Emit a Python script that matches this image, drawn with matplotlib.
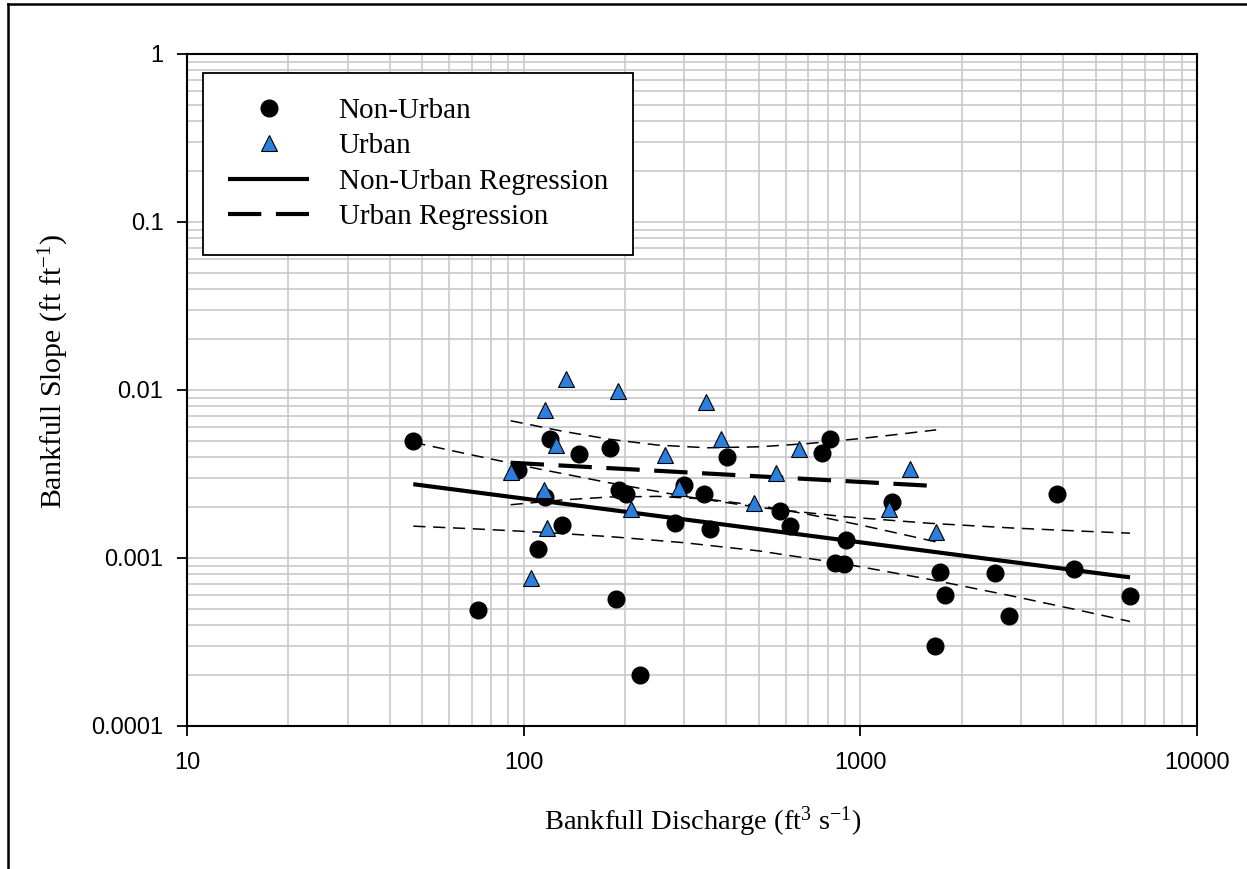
import matplotlib
matplotlib.use('Agg')
import matplotlib.pyplot as plt
from matplotlib.lines import Line2D
from matplotlib.ticker import FixedLocator, LogLocator, NullFormatter

plt.rcParams['font.family'] = 'Liberation Sans'
plt.rcParams['mathtext.fontset'] = 'custom'
plt.rcParams['mathtext.rm'] = 'Liberation Serif'

# bankfull discharge (ft3/s) and bankfull slope (ft/ft) per site
non_urban_q = [47, 73, 96, 110, 116, 120, 130, 146, 180, 188, 192, 202, 221,
               281, 299, 344, 357, 401, 577, 618, 771, 813, 841, 893, 906,
               1245, 1667, 1722, 1782, 2512, 2770, 3846, 4304, 6325]
non_urban_s = [0.0050, 0.00049, 0.00334, 0.00113, 0.00232, 0.0051, 0.00157,
               0.00416, 0.0045, 0.00057, 0.00254, 0.0024, 0.00020, 0.00161,
               0.00272, 0.0024, 0.00149, 0.0040, 0.0019, 0.00156, 0.0042,
               0.0051, 0.00094, 0.00092, 0.00128, 0.00216, 0.00030, 0.00082,
               0.00060, 0.00081, 0.000454, 0.0024, 0.000857, 0.000594]

urban_q = [91.5, 105, 115, 116, 117, 124.5, 134, 190, 209, 263, 290, 347,
           385, 483, 560, 659, 1218, 1409, 1679]
urban_s = [0.00326, 0.00076, 0.00254, 0.0076, 0.0015, 0.0047, 0.0117, 0.0098,
           0.00195, 0.0041, 0.0026, 0.0085, 0.0051, 0.00213, 0.00319, 0.00443,
           0.00195, 0.00337, 0.00142]

# regression lines (straight on log-log axes, end points)
nu_fit_q = [47, 6325]
nu_fit_s = [0.00275, 0.000767]
u_fit_q = [91.5, 1680]
u_fit_s = [0.00369, 0.00268]

# confidence bands around each regression
nu_band_q = [47, 70, 110, 180, 300, 500, 900, 1600, 2800, 4500, 6325]
nu_band_hi = [0.00488, 0.00411, 0.00340, 0.00280, 0.00233, 0.00200, 0.00176,
              0.00161, 0.00151, 0.001446, 0.001405]
nu_band_lo = [0.001547, 0.001494, 0.001427, 0.001341, 0.001233, 0.001102,
              0.000922, 0.000747, 0.000596, 0.000487, 0.000419]

u_band_q = [91.5, 130, 180, 250, 350, 500, 700, 1000, 1300, 1680]
u_band_hi = [0.00656, 0.00569, 0.00509, 0.00470, 0.00453, 0.00459, 0.00480,
             0.00514, 0.00545, 0.00579]
u_band_lo = [0.002075, 0.002215, 0.002307, 0.002327, 0.002242, 0.002048,
             0.001819, 0.001572, 0.001400, 0.001247]

blue = '#2a80dc'
serif = 'Liberation Serif'

fig = plt.figure(figsize=(12.47, 8.69), dpi=100)
ax = fig.add_axes([187 / 1247, 1 - 726 / 869, 1010 / 1247, 672 / 869])

ax.set_xscale('log')
ax.set_yscale('log')
ax.set_xlim(10, 10000)
ax.set_ylim(0.0001, 1)

# grid on every decade and sub-decade line
ax.xaxis.set_minor_locator(LogLocator(base=10, subs=range(2, 10)))
ax.yaxis.set_minor_locator(LogLocator(base=10, subs=range(2, 10)))
ax.xaxis.set_minor_formatter(NullFormatter())
ax.yaxis.set_minor_formatter(NullFormatter())
ax.grid(True, which='both', color='#c8c8c8', linewidth=1.2)
ax.set_axisbelow(True)

ax.xaxis.set_major_locator(FixedLocator([10, 100, 1000, 10000]))
ax.set_xticklabels(['10', '100', '1000', '10000'])
ax.yaxis.set_major_locator(FixedLocator([0.0001, 0.001, 0.01, 0.1, 1]))
ax.set_yticklabels(['0.0001', '0.001', '0.01', '0.1', '1'])
ax.tick_params(which='major', direction='out', length=7, width=1.3,
               labelsize=17)
ax.tick_params(axis='x', which='major', pad=12)
ax.tick_params(axis='y', which='major', pad=10)
ax.tick_params(which='minor', length=0)
for sp in ax.spines.values():
    sp.set_linewidth(1.5)
    sp.set_color('black')

# confidence bands
band_style = dict(color='black', linewidth=1.1, dashes=(8, 5))
ax.plot(nu_band_q, nu_band_hi, **band_style)
ax.plot(nu_band_q, nu_band_lo, **band_style)
ax.plot(u_band_q, u_band_hi, **band_style)
ax.plot(u_band_q, u_band_lo, **band_style)

# regressions
ax.plot(nu_fit_q, nu_fit_s, color='black', linewidth=3,
        solid_capstyle='butt', label='Non-Urban Regression')
ax.plot(u_fit_q, u_fit_s, color='black', linewidth=3, dashes=(8, 3.5),
        label='Urban Regression')

# sites
ax.plot(non_urban_q, non_urban_s, 'o', color='black', markersize=12,
        label='Non-Urban', zorder=4)
ax.plot(urban_q, urban_s, '^', markerfacecolor=blue, markeredgecolor='black',
        markeredgewidth=0.8, markersize=11, linestyle='none', label='Urban',
        zorder=5)

handles, labels = ax.get_legend_handles_labels()
order = [2, 3, 0, 1]
leg = ax.legend([handles[i] for i in order], [labels[i] for i in order],
                loc='upper left', bbox_to_anchor=(16 / 1010, 1 - 18.7 / 672),
                borderaxespad=0, prop={'family': serif, 'size': 21},
                numpoints=1, handlelength=2.8, handletextpad=1.0,
                borderpad=0.85, labelspacing=0.31, fancybox=False,
                framealpha=1, edgecolor='black')
leg.get_frame().set_linewidth(1.3)

fig.text(703 / 1247, 1 - 830 / 869,
         r'Bankfull Discharge (ft$\mathregular{^{3}}$ s$\mathregular{^{-1}}$)',
         family=serif, fontsize=20.5, ha='center', va='baseline')
fig.text(62 / 1247, 1 - 371 / 869,
         r'Bankfull Slope (ft ft$\mathregular{^{-1}}$)',
         family=serif, fontsize=21.5, ha='center', va='baseline',
         rotation=90, rotation_mode='anchor')

# frame lines along the left and top edges
fig.add_artist(Line2D([8 / 1247, 8 / 1247], [0, 1 - 4 / 869],
                      transform=fig.transFigure, color='black', linewidth=1.8))
fig.add_artist(Line2D([8 / 1247, 1], [1 - 4 / 869, 1 - 4 / 869],
                      transform=fig.transFigure, color='black', linewidth=1.8))

fig.savefig('out.png', dpi=100)
